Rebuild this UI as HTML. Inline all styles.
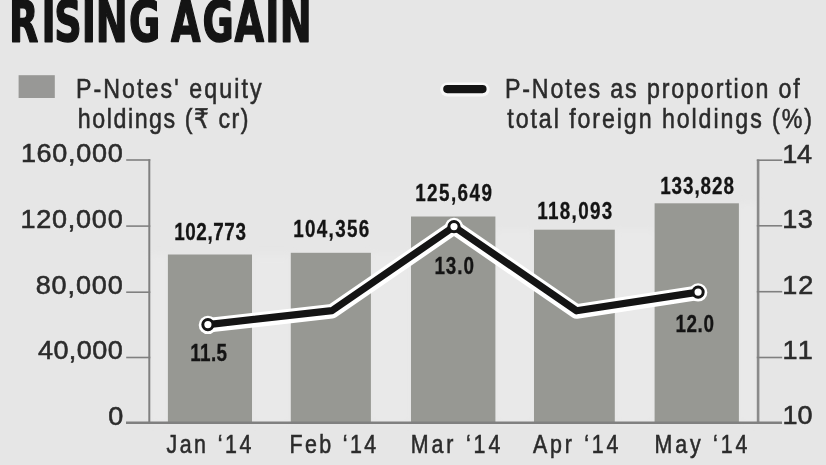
<!DOCTYPE html>
<html lang="en">
<head>
<meta charset="utf-8">
<title>Rising Again</title>
<style>
html,body{margin:0;padding:0;background:#e6e6e6;}
body{width:826px;height:465px;overflow:hidden;font-family:"Liberation Sans", "DejaVu Sans", sans-serif;}
svg{display:block;will-change:transform;filter:opacity(1);}
</style>
</head>
<body>
<svg width="826" height="465" viewBox="0 0 826 465" font-family='"Liberation Sans", "DejaVu Sans", sans-serif'>
<rect width="826" height="465" fill="#e6e6e6"/>
<text transform="translate(0,42.0) scale(0.68,1)" x="13.37 61.05 79.77 120.31 140.64 189.78 209.78 251.31 297.94 344.69 390.02 411.23" y="0" font-family='"DejaVu Sans", "Liberation Sans", sans-serif' font-size="56.1" font-weight="bold" fill="#141414" stroke="#141414" stroke-width="1.6" stroke-linejoin="round">RISING AGAIN</text>
<rect x="18.6" y="75.2" width="36.2" height="22.8" fill="#989896"/>
<line x1="447.3" y1="89.5" x2="482.5" y2="89.5" stroke="#f7f7f7" stroke-width="14.2" stroke-linecap="round"/>
<line x1="447.3" y1="89.1" x2="482.5" y2="89.1" stroke="#141414" stroke-width="8.2" stroke-linecap="round"/>
<defs><filter id="soft" x="-20%" y="-20%" width="140%" height="140%"><feGaussianBlur stdDeviation="3"/></filter></defs>
<g filter="url(#soft)">
<rect x="150.3" y="254.5" width="17.6" height="168.2" fill="#e9e9e9"/>
<rect x="252.0" y="254.5" width="38.8" height="168.2" fill="#e9e9e9"/>
<rect x="370.9" y="252.8" width="40.1" height="169.9" fill="#e9e9e9"/>
<rect x="495.4" y="229.7" width="38.6" height="193.0" fill="#e9e9e9"/>
<rect x="614.8" y="229.7" width="39.8" height="193.0" fill="#e9e9e9"/>
<rect x="738.9" y="203.3" width="17.9" height="219.4" fill="#e9e9e9"/>
</g>
<rect x="167.9" y="254.5" width="84.1" height="168.2" fill="#979893"/>
<rect x="290.8" y="252.8" width="80.1" height="169.9" fill="#979893"/>
<rect x="411.0" y="216.5" width="84.4" height="206.2" fill="#979893"/>
<rect x="534.0" y="229.7" width="80.8" height="193.0" fill="#979893"/>
<rect x="654.6" y="203.3" width="84.3" height="219.4" fill="#979893"/>
<g stroke="#808080" fill="none">
<line x1="149.3" y1="159.2" x2="149.3" y2="422.7" stroke-width="2"/>
<line x1="758.1" y1="159.4" x2="758.1" y2="422.7" stroke-width="2.6" stroke="#8a8a8a"/>
<line x1="126.2" y1="160.0" x2="150.3" y2="160.0" stroke-width="1.6"/>
<line x1="756.8" y1="160.2" x2="782.2" y2="160.2" stroke-width="1.6"/>
<line x1="126.2" y1="226.1" x2="150.3" y2="226.1" stroke-width="1.6"/>
<line x1="756.8" y1="225.8" x2="782.2" y2="225.8" stroke-width="1.6"/>
<line x1="126.2" y1="292.2" x2="150.3" y2="292.2" stroke-width="1.6"/>
<line x1="756.8" y1="291.7" x2="782.2" y2="291.7" stroke-width="1.6"/>
<line x1="126.2" y1="357.5" x2="150.3" y2="357.5" stroke-width="1.6"/>
<line x1="756.8" y1="357.5" x2="782.2" y2="357.5" stroke-width="1.6"/>
<line x1="126" y1="422.7" x2="782" y2="422.7" stroke-width="2.4"/>
</g>
<polyline points="207.9,325.3 332.0,311.3 454.0,227.29999999999998 576.5,311.5 698.1,292.8" fill="none" stroke="#ffffff" stroke-width="14.6" stroke-linejoin="round" stroke-linecap="round"/>
<circle cx="207.9" cy="324.90000000000003" r="9.2" fill="#ffffff"/>
<circle cx="454.0" cy="226.9" r="9.2" fill="#ffffff"/>
<circle cx="698.1" cy="292.40000000000003" r="9.2" fill="#ffffff"/>
<polyline points="207.9,324.6 332.0,310.6 454.0,226.6 576.5,310.8 698.1,292.1" fill="none" stroke="#141414" stroke-width="7.2" stroke-linejoin="round" stroke-linecap="round"/>
<circle cx="207.9" cy="324.6" r="5.1" fill="#ffffff" stroke="#141414" stroke-width="3"/>
<circle cx="454.0" cy="226.6" r="5.1" fill="#ffffff" stroke="#141414" stroke-width="3"/>
<circle cx="698.1" cy="292.1" r="5.1" fill="#ffffff" stroke="#141414" stroke-width="3"/>
<text transform="translate(75.90,97.70) scale(0.86,1)" x="0" y="0" font-size="27" font-weight="normal" fill="#2b2b2b" stroke="#2b2b2b" stroke-width="0.55" textLength="215.93" lengthAdjust="spacing">P-Notes&#39; equity</text>
<text transform="translate(77.80,127.50) scale(0.86,1)" x="0" y="0" font-size="27" font-weight="normal" fill="#2b2b2b" stroke="#2b2b2b" stroke-width="0.55" textLength="198.60" lengthAdjust="spacing">holdings (&#8377; cr)</text>
<text transform="translate(504.90,97.70) scale(0.86,1)" x="0" y="0" font-size="27" font-weight="normal" fill="#2b2b2b" stroke="#2b2b2b" stroke-width="0.55" textLength="342.91" lengthAdjust="spacing">P-Notes as proportion of</text>
<text transform="translate(507.30,127.50) scale(0.86,1)" x="0" y="0" font-size="27" font-weight="normal" fill="#2b2b2b" stroke="#2b2b2b" stroke-width="0.55" textLength="354.30" lengthAdjust="spacing">total foreign holdings (%)</text>
<text transform="translate(20.90,162.00) scale(1.06,1)" x="0" y="0" font-size="25.5" font-weight="normal" fill="#2b2b2b" stroke="#2b2b2b" stroke-width="0.55" textLength="96.04" lengthAdjust="spacing">160,000</text>
<text transform="translate(20.40,227.80) scale(1.06,1)" x="0" y="0" font-size="25.5" font-weight="normal" fill="#2b2b2b" stroke="#2b2b2b" stroke-width="0.55" textLength="96.51" lengthAdjust="spacing">120,000</text>
<text transform="translate(35.70,293.80) scale(1.06,1)" x="0" y="0" font-size="25.5" font-weight="normal" fill="#2b2b2b" stroke="#2b2b2b" stroke-width="0.55" textLength="82.08" lengthAdjust="spacing">80,000</text>
<text transform="translate(38.00,358.80) scale(1.06,1)" x="0" y="0" font-size="25.5" font-weight="normal" fill="#2b2b2b" stroke="#2b2b2b" stroke-width="0.55" textLength="79.91" lengthAdjust="spacing">40,000</text>
<text transform="translate(108.20,424.50) scale(1.06,1)" x="0" y="0" font-size="25.5" font-weight="normal" fill="#2b2b2b" stroke="#2b2b2b" stroke-width="0.55" textLength="11.13" lengthAdjust="spacing">0</text>
<text transform="translate(782.20,162.50) scale(1.06,1)" x="0" y="0" font-size="25.5" font-weight="normal" fill="#2b2b2b" stroke="#2b2b2b" stroke-width="0.55" textLength="28.11" lengthAdjust="spacing">14</text>
<text transform="translate(782.20,228.00) scale(1.06,1)" x="0" y="0" font-size="25.5" font-weight="normal" fill="#2b2b2b" stroke="#2b2b2b" stroke-width="0.55" textLength="28.87" lengthAdjust="spacing">13</text>
<text transform="translate(782.20,293.60) scale(1.06,1)" x="0" y="0" font-size="25.5" font-weight="normal" fill="#2b2b2b" stroke="#2b2b2b" stroke-width="0.55" textLength="29.43" lengthAdjust="spacing">12</text>
<text transform="translate(782.50,359.30) scale(1.06,1)" x="0" y="0" font-size="25.5" font-weight="normal" fill="#2b2b2b" stroke="#2b2b2b" stroke-width="0.55" textLength="28.58" lengthAdjust="spacing">11</text>
<text transform="translate(782.50,424.00) scale(1.06,1)" x="0" y="0" font-size="25.5" font-weight="normal" fill="#2b2b2b" stroke="#2b2b2b" stroke-width="0.55" textLength="28.40" lengthAdjust="spacing">10</text>
<text transform="translate(166.50,452.50) scale(0.84,1)" x="0" y="0" font-size="25.5" font-weight="normal" fill="#2b2b2b" stroke="#2b2b2b" stroke-width="0.55" word-spacing="1" textLength="101.07" lengthAdjust="spacing">Jan &#8216;14</text>
<text transform="translate(289.40,452.50) scale(0.84,1)" x="0" y="0" font-size="25.5" font-weight="normal" fill="#2b2b2b" stroke="#2b2b2b" stroke-width="0.55" word-spacing="1" textLength="103.33" lengthAdjust="spacing">Feb &#8216;14</text>
<text transform="translate(410.80,452.50) scale(0.84,1)" x="0" y="0" font-size="25.5" font-weight="normal" fill="#2b2b2b" stroke="#2b2b2b" stroke-width="0.55" word-spacing="1" textLength="106.55" lengthAdjust="spacing">Mar &#8216;14</text>
<text transform="translate(533.00,452.50) scale(0.84,1)" x="0" y="0" font-size="25.5" font-weight="normal" fill="#2b2b2b" stroke="#2b2b2b" stroke-width="0.55" word-spacing="1" textLength="101.55" lengthAdjust="spacing">Apr &#8216;14</text>
<text transform="translate(654.60,452.50) scale(0.84,1)" x="0" y="0" font-size="25.5" font-weight="normal" fill="#2b2b2b" stroke="#2b2b2b" stroke-width="0.55" word-spacing="1" textLength="110.36" lengthAdjust="spacing">May &#8216;14</text>
<text transform="translate(174.20,240.40) scale(0.82,1)" x="0" y="0" font-size="23" font-weight="bold" fill="#141414" stroke="#141414" stroke-width="0.3" textLength="87.44" lengthAdjust="spacing">102,773</text>
<text transform="translate(293.20,237.40) scale(0.82,1)" x="0" y="0" font-size="23" font-weight="bold" fill="#141414" stroke="#141414" stroke-width="0.3" textLength="92.80" lengthAdjust="spacing">104,356</text>
<text transform="translate(415.20,201.00) scale(0.82,1)" x="0" y="0" font-size="23" font-weight="bold" fill="#141414" stroke="#141414" stroke-width="0.3" textLength="93.54" lengthAdjust="spacing">125,649</text>
<text transform="translate(537.20,218.90) scale(0.82,1)" x="0" y="0" font-size="23" font-weight="bold" fill="#141414" stroke="#141414" stroke-width="0.3" textLength="91.59" lengthAdjust="spacing">118,093</text>
<text transform="translate(660.20,193.60) scale(0.82,1)" x="0" y="0" font-size="23" font-weight="bold" fill="#141414" stroke="#141414" stroke-width="0.3" textLength="89.88" lengthAdjust="spacing">133,828</text>
<text transform="translate(190.20,361.30) scale(0.82,1)" x="0" y="0" font-size="23" font-weight="bold" fill="#141414" stroke="#141414" stroke-width="0.3" textLength="44.88" lengthAdjust="spacing">11.5</text>
<text transform="translate(434.40,273.90) scale(0.82,1)" x="0" y="0" font-size="23" font-weight="bold" fill="#141414" stroke="#141414" stroke-width="0.3" textLength="48.29" lengthAdjust="spacing">13.0</text>
<text transform="translate(675.50,332.20) scale(0.82,1)" x="0" y="0" font-size="23" font-weight="bold" fill="#141414" stroke="#141414" stroke-width="0.3" textLength="46.83" lengthAdjust="spacing">12.0</text>
</svg>
</body>
</html>
